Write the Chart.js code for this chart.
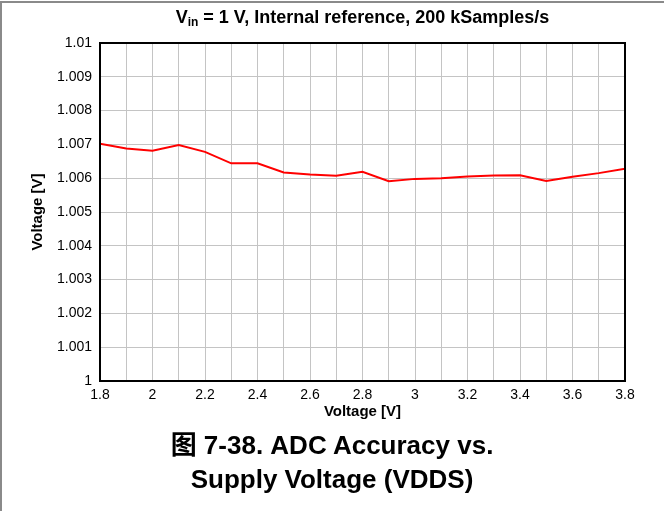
<!DOCTYPE html>
<html>
<head>
<meta charset="utf-8">
<script src="https://cdn.jsdelivr.net/npm/chart.js@4"></script>
<style>
  body { margin: 0; background: #fff; }
  #page { position: absolute; left: 0; top: 1px; width: 664px; height: 510px;
          border-top: 2px solid #8a8a8a; border-left: 2px solid #8a8a8a; box-sizing: border-box; }
  #chart { position: absolute; left: 0; top: 0; }
  #title { position: absolute; left: 60px; top: 7px; width: 605px; text-align: center;
           font: bold 18px "Liberation Sans", Arial, sans-serif; color: #000; }
  #title sub { font-size: 12px; vertical-align: -3px; }
  #caption { position: absolute; left: 0; top: 428px; width: 664px; text-align: center;
             font: bold 26px "Liberation Sans", "Noto Sans CJK SC", Arial, sans-serif; line-height: 34px; color: #000; }
</style>
</head>
<body>
<div id="page"></div>
<canvas id="chart" width="664" height="511"></canvas>
<div id="title">V<sub>in</sub> = 1 V, Internal reference, 200 kSamples/s</div>
<div id="caption">图 7-38. ADC Accuracy vs.<br>Supply Voltage (VDDS)</div>
<script>
const supplyVoltage = [1.8, 1.9, 2.0, 2.1, 2.2, 2.3, 2.4, 2.5, 2.6, 2.7, 2.8,
                       2.9, 3.0, 3.1, 3.2, 3.3, 3.4, 3.5, 3.6, 3.7, 3.8];
const measured = [1.00702, 1.00688, 1.00681, 1.00698, 1.00678, 1.00644, 1.00644,
                  1.00617, 1.00611, 1.00607, 1.00619, 1.00591, 1.00598, 1.00600,
                  1.00605, 1.00608, 1.00609, 1.00592, 1.00604, 1.00615, 1.00628];
const xTitle = "Voltage [V]";
const yTitle = "Voltage [V]";

const points = supplyVoltage.map((v, i) => ({ x: v, y: measured[i] }));

// black frame around the plot area
const frame = {
    id: "frame",
    afterDraw(chart) {
        const a = chart.chartArea;
        const ctx = chart.ctx;
        ctx.save();
        ctx.strokeStyle = "#000";
        ctx.lineWidth = 2;
        ctx.strokeRect(a.left, a.top, a.right - a.left, a.bottom - a.top);
        ctx.restore();
    }
};

const tickFont = { family: "'Liberation Sans', Arial, sans-serif", size: 14 };
const titleFont = { family: "'Liberation Sans', Arial, sans-serif", size: 15, weight: "bold" };

new Chart(document.querySelector("#chart"), {
    type: "line",
    data: {
        datasets: [{
            data: points,
            borderColor: "#ff0000",
            borderWidth: 2,
            pointRadius: 0,
            tension: 0
        }]
    },
    options: {
        responsive: false,
        animation: false,
        layout: { padding: { top: 43, right: 39, left: 29, bottom: 90 } },
        plugins: { legend: { display: false }, tooltip: { enabled: false } },
        scales: {
            x: {
                type: "linear",
                min: 1.8,
                max: 3.8,
                afterFit: (s) => { s.height = 40; },
                grid: { color: "#c4c4c4", lineWidth: 1, drawTicks: false },
                border: { display: false },
                ticks: {
                    stepSize: 0.1,
                    autoSkip: false,
                    maxRotation: 0,
                    padding: 6,
                    color: "#000",
                    font: tickFont,
                    callback: (v) => Math.round(v * 10) % 2 === 0 ? String(Number(v.toFixed(1))) : ""
                },
                title: { display: true, text: xTitle, color: "#000", font: titleFont, padding: { top: 0, bottom: 0 } }
            },
            y: {
                min: 1,
                max: 1.01,
                afterFit: (s) => { s.width = 71; },
                grid: { color: "#c4c4c4", lineWidth: 1, drawTicks: false },
                border: { display: false },
                ticks: {
                    stepSize: 0.001,
                    padding: 8,
                    color: "#000",
                    font: tickFont,
                    callback: (v) => String(Number(v.toFixed(3)))
                },
                title: { display: true, text: yTitle, color: "#000", font: titleFont, padding: { top: 0, bottom: 0 } }
            }
        }
    },
    plugins: [frame]
});
</script>
</body>
</html>
